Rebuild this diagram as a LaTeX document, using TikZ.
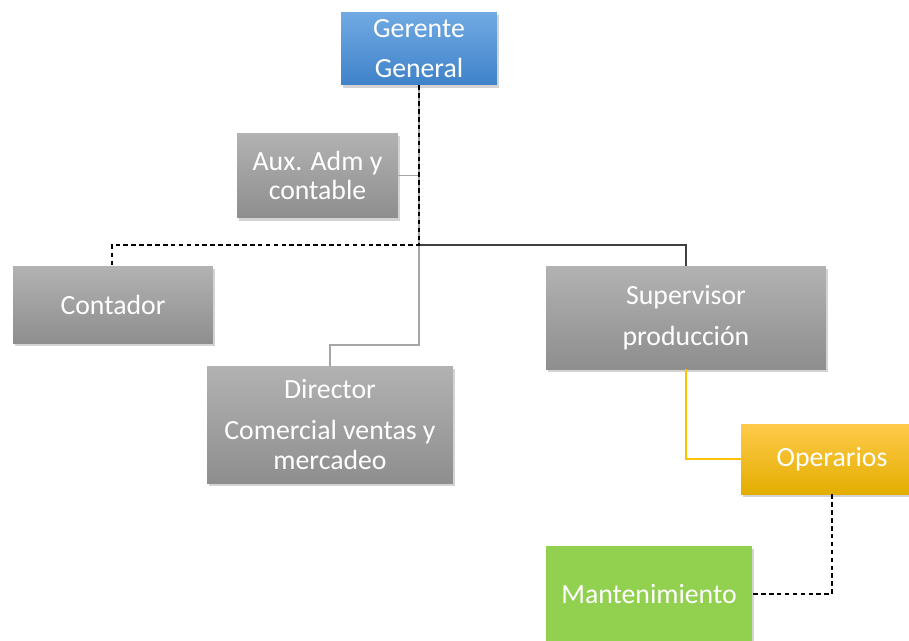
\documentclass[tikz,border=0pt]{standalone}
\usepackage{fontspec}
\setmainfont{Carlito}
\usetikzlibrary{shadows}

\definecolor{boxgraytop}{HTML}{B2B2B2}
\definecolor{boxgraybot}{HTML}{8E8E8E}
\definecolor{boxbluetop}{HTML}{71AAE3}
\definecolor{boxbluebot}{HTML}{3F82C9}
\definecolor{boxyeltop}{HTML}{FFCA4A}
\definecolor{boxyelbot}{HTML}{E3AE00}
\definecolor{boxgreen}{HTML}{92D050}
\definecolor{linegray}{HTML}{A6A6A6}
\definecolor{linedark}{HTML}{404040}
\definecolor{lineyel}{HTML}{FFC000}

\begin{document}
\begin{tikzpicture}[x=0.02cm,y=-0.02cm]
   \useasboundingbox (0,0) rectangle (909,640);
   \begin{scope}[every node/.style={rectangle,text=white,align=center,
       font=\fontsize{15.8}{17}\selectfont,inner sep=0pt,
       drop shadow={shadow xshift=1.2pt,shadow yshift=-1.5pt,opacity=0.35},
       top color=boxgraytop,bottom color=boxgraybot}]
    \node[top color=boxbluetop,bottom color=boxbluebot,minimum width=3.12cm,minimum height=1.46cm] (gg) at (419,48.5) {Gerente\\[6pt]General};
    \node[minimum width=3.22cm,minimum height=1.7cm] (aux) at (317.5,175.5) {Aux. Adm y\\contable};
    \node[minimum width=4cm,minimum height=1.54cm] (cont) at (113,304.5) {Contador};
    \node[minimum width=5.6cm,minimum height=2.06cm] (sup) at (686,317.5) {Supervisor\\[6pt]producción};
    \node[minimum width=4.92cm,minimum height=2.34cm] (dir) at (330,424.5) {Director\\[6pt]Comercial ventas y\\mercadeo};
    \node[top color=boxyeltop,bottom color=boxyelbot,minimum width=3.64cm,minimum height=1.4cm] (oper) at (832,459) {Operarios};
    \node[top color=boxgreen,bottom color=boxgreen,minimum width=4.12cm,minimum height=1.92cm] (mant) at (649,594) {Mantenimiento};
   \end{scope}
   \begin{scope}[line width=0.75pt]
    \draw[linegray] (gg.south) -- (gg.south |- aux.east) -- (aux.east);
    \draw[linegray] (gg.south) -- (419,345) -- (330,345) -- (dir.north);
    \draw[linedark] (419,245) -- (686,245) -- (sup.north);
    \draw[dash pattern=on 2.6pt off 1.9pt] (gg.south) -- (419,245) -- (112,245) -- (112,266);
    \draw[lineyel] (sup.south) -- (sup.south |- oper.west) -- (oper.west);
    \draw[dash pattern=on 2.6pt off 1.9pt] (oper.south) -- (oper.south |- mant.east) -- (mant.east);
   \end{scope}
\end{tikzpicture}
\end{document}
